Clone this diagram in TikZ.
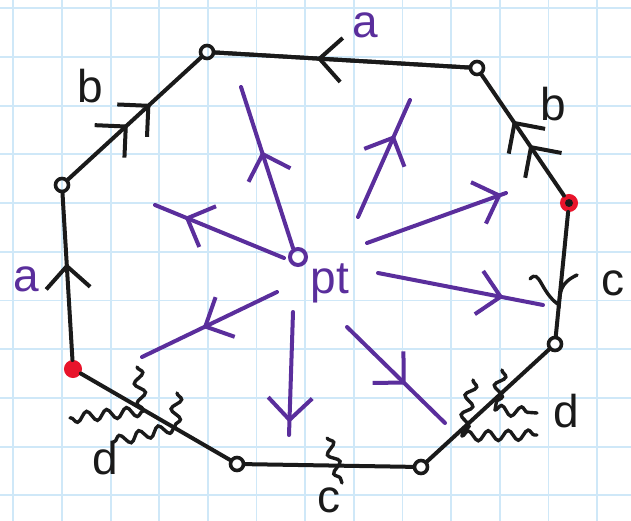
\documentclass[tikz,border=0pt]{standalone}
\usepackage{fontspec}
\setmainfont{Liberation Sans}
\usetikzlibrary{arrows.meta,decorations.markings,decorations.pathmorphing}
\definecolor{gridc}{HTML}{CFE8F8}
\definecolor{inkp}{HTML}{5A2E9C}
\definecolor{inkk}{HTML}{1A1A1A}
\definecolor{inkr}{HTML}{E8142B}
\tikzset{
  hb/.tip={Straight Barb[length=22pt,width=44pt,line width=4pt]},
  gridline/.style={gridc,line width=1.8pt},
  edge/.style={inkk,line width=4pt,line cap=round},
  parrow/.style={inkp,line width=4pt,line cap=round},
  vtx/.style={circle,draw=inkk,line width=3.6pt,minimum size=13pt,inner sep=0pt},
  vtxred/.style={circle,fill=inkr,draw=inkr,line width=1pt,minimum size=17pt,inner sep=0pt},
  sq/.style={inkk,line width=3.4pt,line cap=round,decorate,decoration={snake,amplitude=5pt,segment length=20pt}},
  lbl/.style={font=\fontsize{46}{46}\selectfont,inner sep=0pt},
  one/.style={postaction={decorate,decoration={markings,mark=at position #1 with {\arrow{hb}}}}},
  two/.style n args={2}{postaction={decorate,decoration={markings,mark=at position #1 with {\arrow{hb}},mark=at position #2 with {\arrow{hb}}}}}
}
\begin{document}
\begin{tikzpicture}[x=1pt,y=-1pt]
\useasboundingbox (0,0) rectangle (631,521);
\fill[white] (0,0) rectangle (631,521);
\foreach \i in {0,...,12} \draw[gridline] ({13.3+48.65*\i},0) -- ({13.3+48.65*\i},521);
\foreach \j in {0,...,10} \draw[gridline] (0,{8.3+48.7*\j}) -- (631,{8.3+48.7*\j});

% vertices
\node[vtx] (v1) at (207,52) {};
\node[vtx] (v2) at (477,68) {};
\node[vtxred] (v3) at (569,203) {};
\node[vtx] (v4) at (555,344) {};
\node[vtx] (v5) at (421,467) {};
\node[vtx] (v6) at (237,464) {};
\node[vtxred] (v7) at (73,369) {};
\node[vtx] (v8) at (62,185) {};
\fill[inkk] (v3.center) circle (4pt);

% edges
\draw[edge,two={0.45}{0.62}] (v8) -- (v1);
\draw[edge] (v1) -- (v2);
\draw[edge,one={0.6}] (v2) -- (v1);
\draw[edge,two={0.42}{0.62}] (v3) -- (v2);
\draw[edge] (v3) -- (v4);
\draw[edge] (v4) -- (v5);
\draw[edge] (v5) -- (v6);
\draw[edge] (v6) -- (v7);
\draw[edge,one={0.58}] (v7) -- (v8);

% squiggle marks
\draw[edge,line width=3.4pt] (530,279) .. controls (540,268) and (540,292) .. (559,305)
  .. controls (560,292) and (560,283) .. (577,275);
\draw[sq] (327,438) -- (342,483);
\draw[sq] (137,367) -- (143,411);
\draw[sq] (143,411) -- (70,418);
\draw[sq] (177,393) -- (175,427);
\draw[sq] (175,427) -- (113,442);
\draw[sq] (502,370) -- (495,410);
\draw[sq] (495,410) -- (537,413);
\draw[sq] (473,380) -- (462,436);
\draw[sq] (462,436) -- (537,435);

% labels
\node[lbl,text=inkp] (la1) at (365,25) {a};
\node[lbl,text=inkk] (lb1) at (90,86) {b};
\node[lbl,text=inkk] (lb2) at (553,104) {b};
\node[lbl,text=inkp] (la2) at (26,279) {a};
\node[lbl,text=inkk] (lc1) at (613,283) {c};
\node[lbl,text=inkk] (ld1) at (566,411) {d};
\node[lbl,text=inkk] (lc2) at (329,500) {c};
\node[lbl,text=inkk] (ld2) at (105,458) {d};

% centre point
\node[circle,draw=inkp,line width=4pt,minimum size=16pt,inner sep=0pt] (pt) at (298,257) {};
\node[lbl,text=inkp] (ptl) at (330,283) {pt};

% purple rays
\coordinate (s1) at (293,248); \coordinate (e1) at (241,87);
\coordinate (s2) at (358,217); \coordinate (e2) at (410,100);
\coordinate (s3) at (367,243); \coordinate (e3) at (506,193);
\coordinate (s4) at (378,273); \coordinate (e4) at (543,305);
\coordinate (s5) at (347,327); \coordinate (e5) at (445,423);
\coordinate (s6) at (293,312); \coordinate (e6) at (289,435);
\coordinate (s7) at (277,292); \coordinate (e7) at (142,357);
\coordinate (s8) at (284,258); \coordinate (e8) at (155,205);
\draw[parrow,one={0.6}] (s1) -- (e1);
\draw[parrow,one={0.7}] (s2) -- (e2);
\draw[parrow,one={0.97}] (s3) -- (e3);
\draw[parrow,one={0.76}] (s4) -- (e4);
\draw[parrow,one={0.6}] (s5) -- (e5);
\draw[parrow,one={0.9}] (s6) -- (e6);
\draw[parrow,one={0.55}] (s7) -- (e7);
\draw[parrow,one={0.77}] (s8) -- (e8);
\end{tikzpicture}
\end{document}
